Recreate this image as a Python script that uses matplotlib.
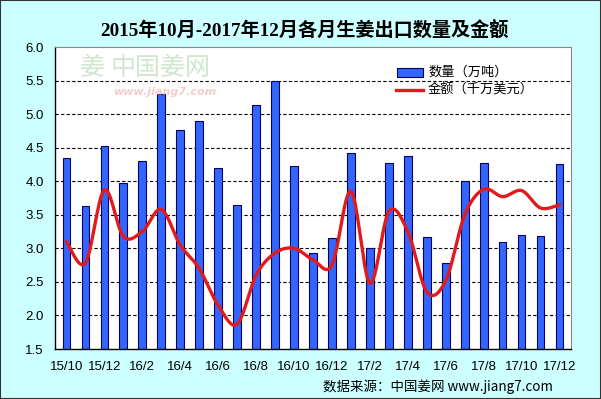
import numpy as np
import matplotlib
matplotlib.use("Agg")
import matplotlib.pyplot as plt
from matplotlib.patches import Rectangle
from matplotlib.lines import Line2D

months = ["15/10", "15/11", "15/12", "16/1", "16/2", "16/3", "16/4", "16/5", "16/6",
          "16/7", "16/8", "16/9", "16/10", "16/11", "16/12", "17/1", "17/2", "17/3",
          "17/4", "17/5", "17/6", "17/7", "17/8", "17/9", "17/10", "17/11", "17/12"]
quantity = [4.35, 3.63, 4.53, 3.97, 4.30, 5.30, 4.77, 4.90, 4.20, 3.65, 5.14, 5.50,
            4.22, 2.93, 3.15, 4.42, 3.00, 4.27, 4.38, 3.17, 2.78, 4.00, 4.27, 3.10,
            3.20, 3.19, 4.25]
amount = [3.10, 2.78, 3.87, 3.18, 3.25, 3.58, 3.05, 2.70, 2.15, 1.87, 2.60, 2.93,
          3.00, 2.83, 2.75, 3.85, 2.48, 3.55, 3.25, 2.35, 2.52, 3.50, 3.88, 3.77,
          3.86, 3.60, 3.65]
yticks = [1.5, 2.0, 2.5, 3.0, 3.5, 4.0, 4.5, 5.0, 5.5, 6.0]

plt.rcParams['font.family'] = ['Noto Sans CJK SC', 'DejaVu Sans']

bg = '#CCFFFF'
W, H = 601, 399
fig = plt.figure(figsize=(W / 100, H / 100), dpi=100, facecolor=bg)
ax = fig.add_axes([55 / W, 1 - 349 / H, 516 / W, 302 / H])
ax.set_facecolor('white')

x = np.arange(len(months))
ax.bar(x, quantity, width=0.4, bottom=0, color='#3366FF', edgecolor='#000066',
       linewidth=0.8, zorder=2)

# Smoothed line (Catmull-Rom rendering through data points)
def catmull(xs, ys, n=20):
    xs = np.asarray(xs, float); ys = np.asarray(ys, float)
    px = np.concatenate([[xs[0]], xs, [xs[-1]]])
    py = np.concatenate([[ys[0]], ys, [ys[-1]]])
    outx, outy = [], []
    for i in range(1, len(px) - 2):
        p0, p1, p2, p3 = (np.array([px[i-1], py[i-1]]), np.array([px[i], py[i]]),
                          np.array([px[i+1], py[i+1]]), np.array([px[i+2], py[i+2]]))
        c1 = p1 + (p2 - p0) / 6.0
        c2 = p2 - (p3 - p1) / 6.0
        t = np.linspace(0, 1, n)[:, None]
        pts = ((1-t)**3) * p1 + 3*((1-t)**2)*t*c1 + 3*(1-t)*t**2*c2 + t**3*p2
        outx.extend(pts[:, 0]); outy.extend(pts[:, 1])
    return outx, outy

sx, sy = catmull(x, amount)
ax.plot(sx, sy, color='#E31A1C', linewidth=2.4, zorder=3, solid_capstyle='round')

ax.set_ylim(1.5, 6.0)
ax.set_xlim(-0.6, len(months) - 0.4)
ax.set_yticks(yticks)
ax.set_yticklabels([f"{v:.1f}" for v in yticks], family='Liberation Sans', fontsize=9.5)
ax.set_xticks(x[::2])
ax.set_xticklabels(months[::2], family='Liberation Sans', fontsize=9.5)
ax.tick_params(axis='x', length=0, pad=9)
ax.tick_params(axis='y', length=0, pad=8)
for yv in yticks[1:-1]:
    ax.axhline(yv, color='black', linestyle=(0, (3, 2)), linewidth=0.8, zorder=1)
for s in ['left', 'bottom']:
    ax.spines[s].set_color('black')
    ax.spines[s].set_linewidth(1.0)
for s in ['top', 'right']:
    ax.spines[s].set_color('#888888')
    ax.spines[s].set_linewidth(0.8)

# legend (manual)
fig.patches.append(Rectangle((397 / W, 1 - 77 / H), 26 / W, 9 / H, transform=fig.transFigure,
                             facecolor='#3366FF', edgecolor='#000066', linewidth=0.8, zorder=5))
fig.lines.append(Line2D([396 / W, 423 / W], [1 - 90 / H, 1 - 90 / H], transform=fig.transFigure,
                        color='#E31A1C', linewidth=2.4, zorder=5))
fig.text(428 / W, 1 - 72 / H, "数量（万吨）", fontsize=9.5, va='center', ha='left')
fig.text(428 / W, 1 - 90 / H, "金额（千万美元）", fontsize=9.5, va='center', ha='left')

# watermark
fig.text(80 / W, 1 - 68 / H, "姜", fontsize=18, color='#A8D4A8', alpha=0.55, va='center', ha='left')
fig.text(111 / W, 1 - 68 / H, "中国姜网", fontsize=18, color='#A8D4A8', alpha=0.55, va='center', ha='left')
fig.text(113 / W, 1 - 92 / H, "www.jiang7.com", fontsize=8, color='#F2A8A8', alpha=0.6,
         style='italic', fontweight='bold', va='center', ha='left', family='DejaVu Sans')

fig.text(304 / W, 1 - 30 / H, "2015年10月-2017年12月各月生姜出口数量及金额", fontsize=13.8,
         fontweight='bold', ha='center', va='center',
         family=['Liberation Serif', 'Noto Sans CJK SC'])
fig.text(323 / W, 1 - 387 / H, "数据来源：中国姜网 www.jiang7.com", fontsize=9.7,
         ha='left', va='center')

fig.patches.append(Rectangle((0, 0), 1, 1, transform=fig.transFigure, fill=False,
                             edgecolor='#333333', linewidth=1.5, zorder=10))

fig.savefig("out.png", dpi=100, facecolor=bg)
